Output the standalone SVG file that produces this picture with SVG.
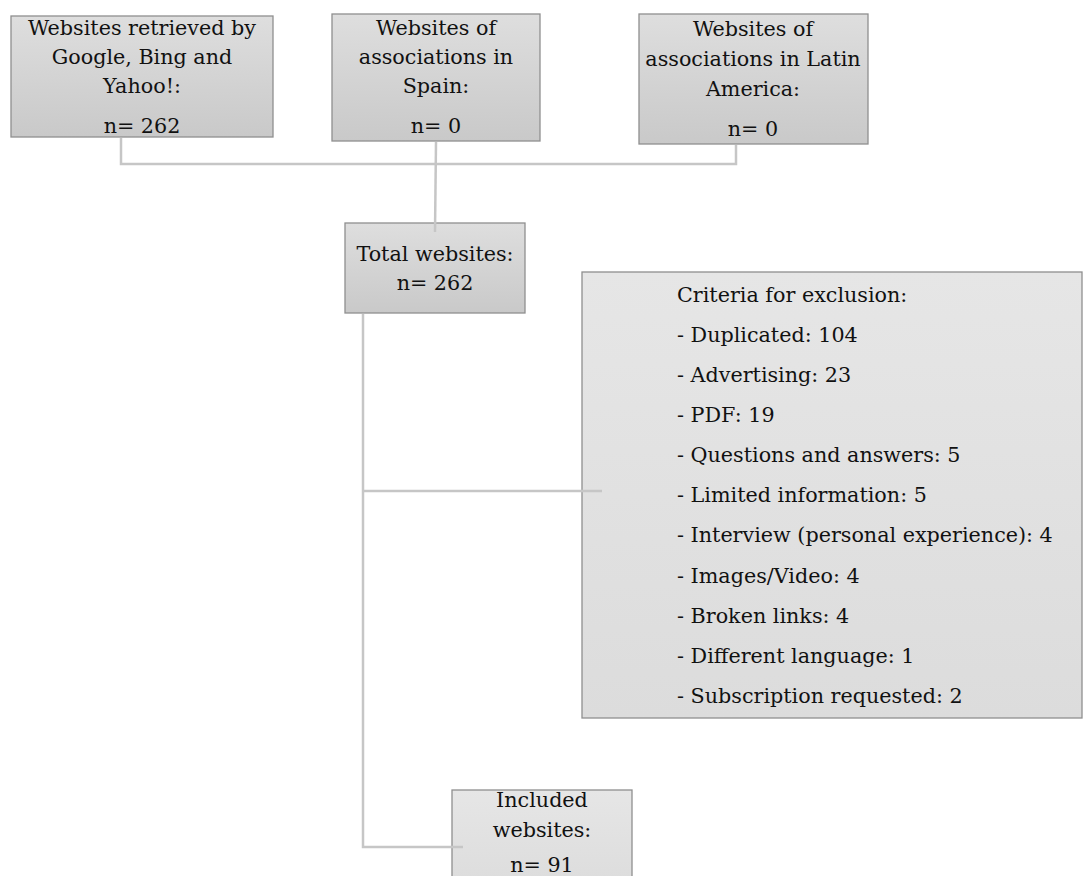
<svg xmlns="http://www.w3.org/2000/svg" width="1084" height="876" viewBox="0 0 1084 876">
<defs>
<linearGradient id="g1" x1="0" y1="0" x2="0" y2="1"><stop offset="0" stop-color="#dedede"/><stop offset="1" stop-color="#c9c9c9"/></linearGradient>
<linearGradient id="g2" x1="0" y1="0" x2="0" y2="1"><stop offset="0" stop-color="#e6e6e6"/><stop offset="1" stop-color="#dcdcdc"/></linearGradient>
</defs>
<style>
.box{fill:url(#g1);stroke:#8f8f8f;stroke-width:1.3}
.box2{fill:url(#g2);stroke:#8f8f8f;stroke-width:1.3}
text{font-family:"DejaVu Serif","Liberation Serif",serif;font-size:20.7px;fill:#111}
.c{text-anchor:middle}
.con{fill:none;stroke:#c6c6c6;stroke-width:2.5}
</style>
<rect width="1084" height="876" fill="#fff"/>
<g id="n1">
<rect class="box" x="11" y="16" width="262" height="121"/>
<text class="c" x="142" y="35">Websites retrieved by</text>
<text class="c" x="142" y="64">Google, Bing and</text>
<text class="c" x="142" y="93">Yahoo!:</text>
<text class="c" x="142" y="133">n= 262</text>
</g>
<g id="n2">
<rect class="box" x="332" y="14" width="208" height="127"/>
<text class="c" x="436" y="35">Websites of</text>
<text class="c" x="436" y="64">associations in</text>
<text class="c" x="436" y="93">Spain:</text>
<text class="c" x="436" y="133">n= 0</text>
</g>
<g id="n3">
<rect class="box" x="639" y="14" width="229" height="130"/>
<text class="c" x="753" y="36">Websites of</text>
<text class="c" x="753" y="66">associations in Latin</text>
<text class="c" x="753" y="96">America:</text>
<text class="c" x="753" y="136">n= 0</text>
</g>
<g id="n4">
<rect class="box" x="345" y="223" width="180" height="90"/>
<text class="c" x="435" y="261">Total websites:</text>
<text class="c" x="435" y="290">n= 262</text>
</g>
<g id="n5">
<rect class="box2" x="582" y="272" width="500" height="446"/>
<text x="677" y="302">Criteria for exclusion:</text>
<text x="677" y="342">- Duplicated: 104</text>
<text x="677" y="382">- Advertising: 23</text>
<text x="677" y="422">- PDF: 19</text>
<text x="677" y="462">- Questions and answers: 5</text>
<text x="677" y="502">- Limited information: 5</text>
<text x="677" y="542">- Interview (personal experience): 4</text>
<text x="677" y="583">- Images/Video: 4</text>
<text x="677" y="623">- Broken links: 4</text>
<text x="677" y="663">- Different language: 1</text>
<text x="677" y="703">- Subscription requested: 2</text>
</g>
<g id="n6">
<rect class="box2" x="452" y="790" width="180" height="100"/>
<text class="c" x="542" y="807">Included</text>
<text class="c" x="542" y="837">websites:</text>
<text class="c" x="542" y="872">n= 91</text>
</g>
<g id="connectors">
<polyline class="con" points="121,138 121,164 736,164 736,145"/>
<line class="con" x1="436" y1="142" x2="435" y2="232"/>
<polyline class="con" points="363,314 363,847 463,847"/>
<line class="con" x1="363" y1="491" x2="602" y2="491"/>
</g>
</svg>
